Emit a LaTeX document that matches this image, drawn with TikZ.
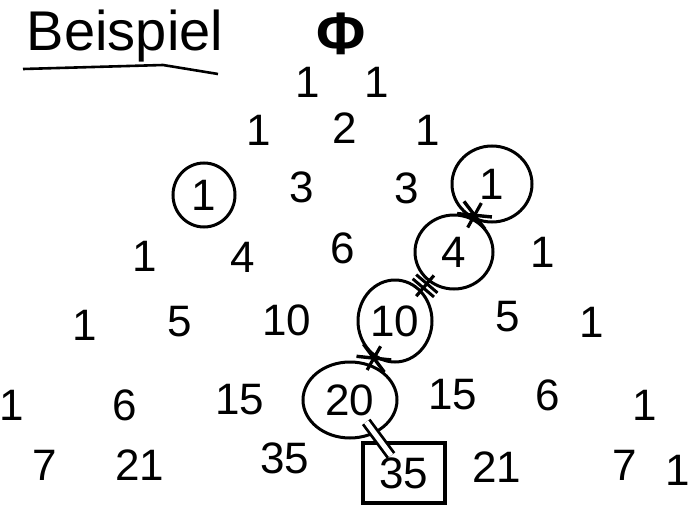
\documentclass[tikz,border=0pt]{standalone}
\usepackage{fontspec}
\setmainfont{Liberation Sans}
\usetikzlibrary{shapes.geometric,calc,decorations.markings}
\tikzset{
  num/.style={font=\fontsize{44}{46}\selectfont, inner sep=0pt},
  ring/.style={num, draw, ellipse, line width=3pt},
  boxed/.style={num, draw, line width=3.2pt, minimum width=82pt, minimum height=60pt},
  link/.style={line width=3.2pt},
  twotick/.style={postaction={decorate, decoration={markings,
     mark=at position 0.4 with {\draw[line width=3pt] (0,-14pt) -- (0,14pt);},
     mark=at position 0.6 with {\draw[line width=3pt] (0,-14pt) -- (0,14pt);}}}},
  crosstick/.style={postaction={decorate, decoration={markings,
     mark=at position 0.5 with {\draw[line width=3.4pt] (-7pt,-16pt) -- (7pt,16pt); \draw[line width=3.4pt] (7pt,-16pt) -- (-7pt,16pt);}}}}
}
\begin{document}
\begin{tikzpicture}[x=1pt,y=-1pt]
\useasboundingbox (0,0) rectangle (694,506);
% title
\node[font=\fontsize{56}{58}\selectfont, inner sep=0pt] (title) at (125,36) {Beispiel};
\coordinate (u1) at (23,69);
\coordinate (u2) at (163,65);
\coordinate (u3) at (218,74);
\draw[line width=2.6pt] (u1) -- (u2) -- (u3);
% row 0
\node[num, font=\fontsize{60}{62}\selectfont\bfseries] (r0) at (341,34) {Φ};
% row 1
\node[num] (r1a) at (308,82) {1};
\node[num] (r1b) at (377,82) {1};
% row 2
\node[num] (r2a) at (259,130) {1};
\node[num] (r2b) at (345,128) {2};
\node[num] (r2c) at (428,130) {1};
% row 3
\node[ring, minimum width=62pt, minimum height=64pt] (c1l) at (204,195) {1};
\node[num] (r3b) at (302,187) {3};
\node[num] (r3c) at (407,188) {3};
\node[ring, minimum width=80pt, minimum height=76pt] (c1) at (492,184) {1};
% row 4
\node[num] (r4a) at (145,256) {1};
\node[num] (r4b) at (243,257) {4};
\node[num] (r4c) at (343,248) {6};
\node[ring, minimum width=78pt, minimum height=74pt] (c4) at (454,252) {4};
\node[num] (r4e) at (543,252) {1};
% row 5
\node[num] (r5a) at (85,325) {1};
\node[num] (r5b) at (180,322) {5};
\node[num] (r5c) at (287,320) {10};
\node[ring, minimum width=74pt, minimum height=82pt] (c10) at (395,321) {10};
\node[num] (r5e) at (508,317) {5};
\node[num] (r5f) at (592,322) {1};
% row 6
\node[num] (r6a) at (12,405) {1};
\node[num] (r6b) at (125,405) {6};
\node[num] (r6c) at (240,400) {15};
\node[ring, minimum width=94pt, minimum height=76pt] (c20) at (350,400) {20};
\node[num] (r6e) at (453,395) {15};
\node[num] (r6f) at (548,395) {6};
\node[num] (r6g) at (645,405) {1};
% row 7
\node[num] (r7a) at (45,465) {7};
\node[num] (r7b) at (140,465) {21};
\node[num] (r7c) at (285,458) {35};
\node[boxed] (b35) at (404,473) {35};
\node[num] (r7e) at (497,467) {21};
\node[num] (r7f) at (625,465) {7};
\node[num] (r7g) at (678,470) {1};
% connectors
\draw[link, crosstick] ($(c1)!0.28!(c4)$) -- ($(c1)!0.64!(c4)$);
\draw[link, twotick] ($(c4)!0.34!(c10)$) -- ($(c4)!0.64!(c10)$);
\draw[link, crosstick] ($(c10)!0.32!(c20)$) -- ($(c10)!0.62!(c20)$);
\draw[line width=2.8pt, double, double distance=5pt] ($(c20)!0.3!(b35)$) -- ($(c20)!0.76!(b35)$);
\end{tikzpicture}
\end{document}
